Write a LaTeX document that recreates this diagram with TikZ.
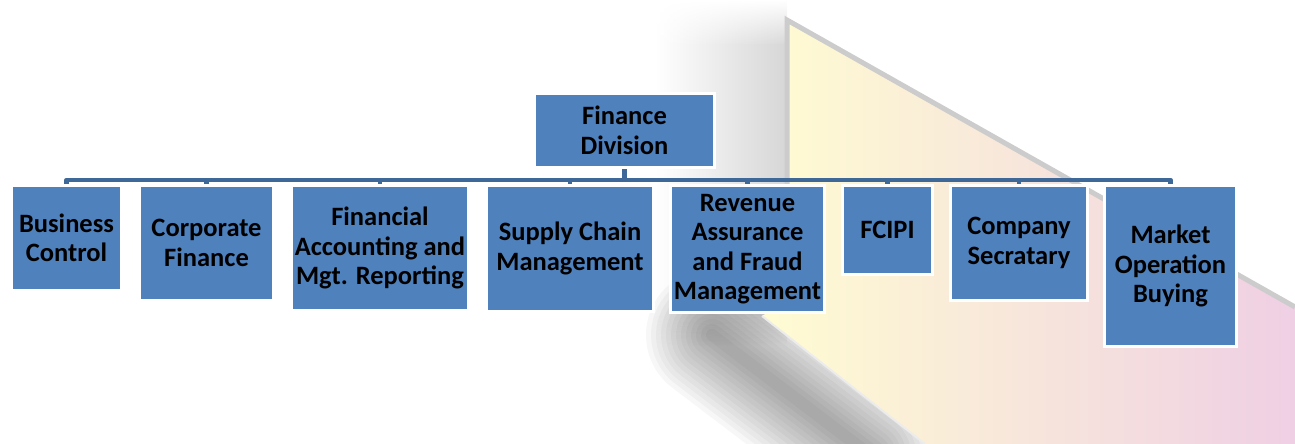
\documentclass[tikz,border=0pt]{standalone}
\usepackage{fontspec}
\setmainfont{Carlito}
\usetikzlibrary{fadings}
\definecolor{unitblue}{HTML}{4F81BD}
\definecolor{linkblue}{HTML}{3E6898}
\definecolor{paleyellow}{HTML}{FFFCD2}
\definecolor{palepink}{HTML}{EFCFE4}
\begin{document}
\begin{tikzpicture}[x=1pt,y=-1pt,
    unit/.style={rectangle,fill=unitblue,draw=white,line width=3pt,inner sep=0pt,
      align=center,font=\fontsize{26.5}{29.5}\selectfont\bfseries},
    link/.style={draw=linkblue,line width=4.5pt,line join=round}]
  \useasboundingbox (0,0) rectangle (1295,444);
  % background
  \shade[left color=white,right color=gray!32] (655,45) rectangle (787,315);
  \shade[left color=white,right color=gray!32,path fading=north] (655,0) rectangle (787,45.5);
  \shade[left color=white,right color=gray!32,path fading=south] (655,314.5) rectangle (787,345);
  \foreach \w in {12,22,...,132}
    \draw[black,line width=\w pt,opacity=0.033,line cap=round] (712,335) -- (870,455);
  \shade[left color=paleyellow,right color=palepink]
    (787,20) -- (1295,307) -- (1295,444) -- (925,444) -- (762,316) -- (787,300) -- cycle;
  \draw[gray!40,line width=5pt] (787,310) -- (787,20) -- (1295,307);
  \draw[gray!15,line width=2pt] (762,316) -- (925,444);
  \draw
    (624.5,130.5) node[unit,minimum width=180,minimum height=74] (fd){Finance\\Division}
    (66.5,238) node[unit,minimum width=110,minimum height=105] (bc){Business\\Control}
    (206.5,243) node[unit,minimum width=134,minimum height=115] (cf){Corporate\\Finance}
    (380,248) node[unit,minimum width=177,minimum height=125] (fa){Financial\\Accounting and\\Mgt. Reporting}
    (570,248.5) node[unit,minimum width=167,minimum height=126] (sc){Supply Chain\\Management}
    (747.5,249) node[unit,minimum width=154,minimum height=127] (ra){Revenue\\Assurance\\and Fraud\\Management}
    (887.5,230) node[unit,minimum width=90,minimum height=89] (fc){FCIPI}
    (1019,243) node[unit,minimum width=137,minimum height=115] (cs){Company\\Secratary}
    (1170.5,266) node[unit,minimum width=132,minimum height=161] (mo){Market\\Operation\\Buying};
  \begin{scope}[link]
    \draw (fd.south) -- ++(0,11) -| (bc.north);
    \draw (fd.south) -- ++(0,11) -| (cf.north);
    \draw (fd.south) -- ++(0,11) -| (fa.north);
    \draw (fd.south) -- ++(0,11) -| (sc.north);
    \draw (fd.south) -- ++(0,11) -| (ra.north);
    \draw (fd.south) -- ++(0,11) -| (fc.north);
    \draw (fd.south) -- ++(0,11) -| (cs.north);
    \draw (fd.south) -- ++(0,11) -| (mo.north);
  \end{scope}
\end{tikzpicture}
\end{document}
